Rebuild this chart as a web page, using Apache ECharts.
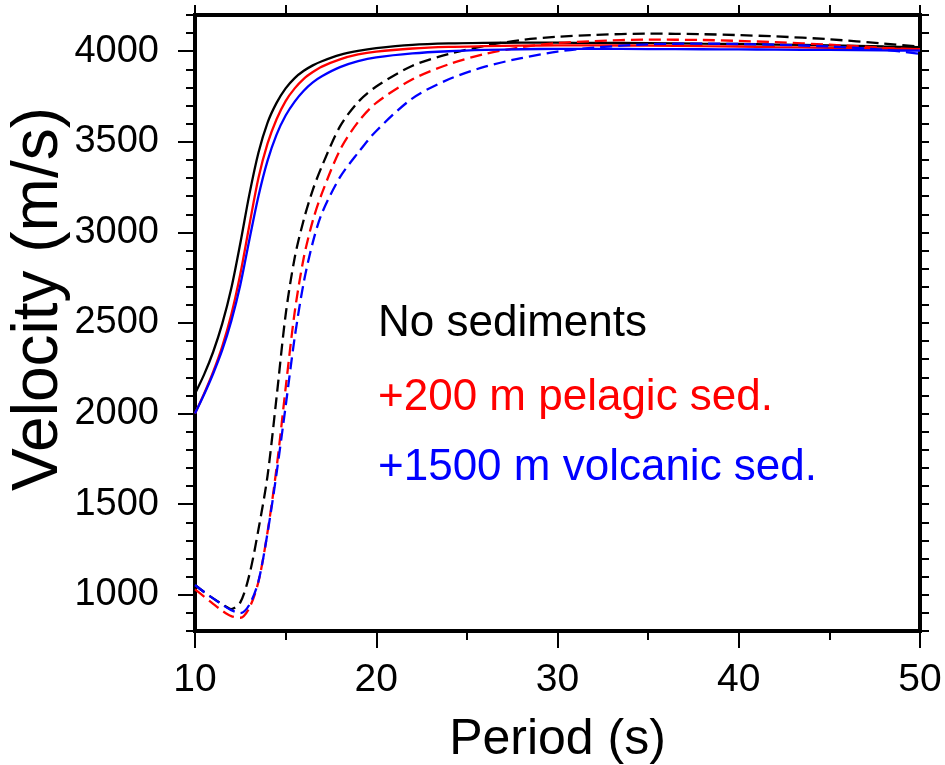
<!DOCTYPE html>
<html>
<head>
<meta charset="utf-8">
<script src="https://cdn.jsdelivr.net/npm/echarts@6/dist/echarts.min.js"></script>
<style>
html,body{margin:0;padding:0;background:#fff;}
#chart{width:945px;height:765px;}
</style>
</head>
<body>
<div id="chart"></div>
<script>
// Period (s)
const periods = [10,10.5,11,11.5,12,12.5,13,13.5,14,14.5,15,15.5,16,16.5,17,18,19,20,22,24,26,28,30,32,35,38,40,42,45,48,50];

// Solid curves
const solidNoSed = [2110,2215,2340,2495,2690,2940,3210,3440,3605,3715,3795,3852,3892,3922,3945,3980,4002,4017,4035,4043,4046,4047,4047,4046,4045,4042,4040,4037,4032,4026,4022];
const solidPelagic = [2000,2110,2230,2370,2545,2770,3040,3300,3490,3625,3725,3795,3848,3885,3915,3955,3982,3998,4015,4024,4028,4031,4032,4032,4031,4028,4026,4023,4019,4014,4011];
const solidVolcanic = [2000,2105,2220,2350,2510,2710,2960,3200,3395,3540,3645,3722,3782,3828,3862,3912,3945,3966,3988,4000,4007,4011,4013,4013,4012,4011,4010,4009,4007,4005,4003];

// Dashed curves
const dashedNoSed = [1054,1015,980,948,921,958,1110,1360,1655,2090,2545,2860,3070,3235,3365,3585,3720,3805,3920,3985,4030,4062,4080,4090,4097,4094,4089,4082,4066,4042,4025];
const dashedPelagic = [1030,990,950,912,882,873,928,1072,1345,1700,2140,2560,2860,3065,3215,3455,3610,3715,3845,3928,3985,4022,4045,4056,4064,4062,4057,4050,4036,4019,4010];
const dashedVolcanic = [1054,1015,980,946,915,899,945,1075,1340,1670,2040,2420,2725,2945,3105,3305,3440,3560,3740,3845,3915,3962,3998,4020,4038,4042,4040,4036,4026,4008,3985];

// Tick labels
const yLabelValues = [1000,1500,2000,2500,3000,3500,4000];
const annotations = ['No sediments', '+200 m pelagic sed.', '+1500 m volcanic sed.'];
const yTitle = 'Velocity (m/s)';
const xTitle = 'Period (s)';

const FONT = "'Liberation Sans', Arial, Helvetica, sans-serif";
const pair = arr => periods.map((p, i) => [p, arr[i]]);

const chart = echarts.init(document.getElementById('chart'), null, {renderer: 'canvas'});

function lineSeries(name, data, color, dashed) {
  return {
    name: name,
    type: 'line',
    data: pair(data),
    xAxisIndex: 0,
    yAxisIndex: 0,
    smooth: 0.3,
    showSymbol: false,
    symbol: 'none',
    clip: true,
    lineStyle: {color: color, width: 2.3, type: dashed ? [12, 6] : 'solid'},
    emphasis: {disabled: true},
    z: 3
  };
}

const option = {
  animation: false,
  backgroundColor: '#fff',
  grid: {
    left: 195, right: 25, top: 15, bottom: 134,
    containLabel: false, outerBoundsMode: 'none',
    show: true, borderColor: '#000', borderWidth: 4, backgroundColor: 'transparent'
  },
  xAxis: [
    {
      type: 'value', position: 'bottom', min: 10, max: 50, interval: 10,
      axisLine: {show: true, onZero: false, lineStyle: {color: '#000', width: 4}},
      axisTick: {show: true, length: 17, lineStyle: {color: '#000', width: 2}},
      minorTick: {show: true, splitNumber: 2, length: 9, lineStyle: {color: '#000', width: 2}},
      splitLine: {show: false},
      axisLabel: {fontSize: 39, color: '#000', fontFamily: FONT, margin: 30, formatter: v => String(v)},
      name: xTitle, nameLocation: 'middle', nameGap: 84,
      nameTextStyle: {fontSize: 50, color: '#000', fontFamily: FONT}
    },
    {
      type: 'value', position: 'top', min: 10, max: 50, interval: 5,
      axisLine: {show: true, onZero: false, lineStyle: {color: '#000', width: 4}},
      axisTick: {show: true, length: 10, lineStyle: {color: '#000', width: 2}},
      axisLabel: {show: false}, splitLine: {show: false}
    }
  ],
  yAxis: [
    {
      type: 'value', position: 'left', min: 800, max: 4200, interval: 100,
      axisLine: {show: true, onZero: false, lineStyle: {color: '#000', width: 4}},
      axisTick: {show: true, length: 9, lineStyle: {color: '#000', width: 2}},
      axisLabel: {show: false}, splitLine: {show: false}
    },
    {
      type: 'value', position: 'left', offset: 0, min: 800, max: 4200, interval: 100,
      axisLine: {show: false},
      axisTick: {show: true, length: 17, customValues: yLabelValues, lineStyle: {color: '#000', width: 2}},
      axisLabel: {show: true, customValues: yLabelValues, fontSize: 38, color: '#000', fontFamily: FONT, margin: 36, formatter: v => String(v)},
      splitLine: {show: false}
    },
    {
      type: 'value', position: 'right', min: 800, max: 4200, interval: 100,
      axisLine: {show: true, onZero: false, lineStyle: {color: '#000', width: 4}},
      axisTick: {show: true, length: 9, lineStyle: {color: '#000', width: 2}},
      axisLabel: {show: false}, splitLine: {show: false}
    }
  ],
  graphic: [
    {type: 'text', x: 39, y: 299, rotation: Math.PI / 2,
     style: {text: yTitle, fill: '#000', font: '64px ' + FONT, align: 'center', verticalAlign: 'middle'}},
    {type: 'text', left: 378, top: 302, style: {text: annotations[0], fill: '#000', font: '44px ' + FONT}},
    {type: 'text', left: 378, top: 376, style: {text: annotations[1], fill: '#ff0000', font: '44px ' + FONT}},
    {type: 'text', left: 378, top: 446, style: {text: annotations[2], fill: '#0000ff', font: '44px ' + FONT}}
  ],
  series: [
    lineSeries('No sediments (solid)', solidNoSed, '#000000', false),
    lineSeries('No sediments (dashed)', dashedNoSed, '#000000', true),
    lineSeries('+200 m pelagic sed. (solid)', solidPelagic, '#ff0000', false),
    lineSeries('+200 m pelagic sed. (dashed)', dashedPelagic, '#ff0000', true),
    lineSeries('+1500 m volcanic sed. (solid)', solidVolcanic, '#0000ff', false),
    lineSeries('+1500 m volcanic sed. (dashed)', dashedVolcanic, '#0000ff', true)
  ]
};
chart.setOption(option);
</script>
</body>
</html>
